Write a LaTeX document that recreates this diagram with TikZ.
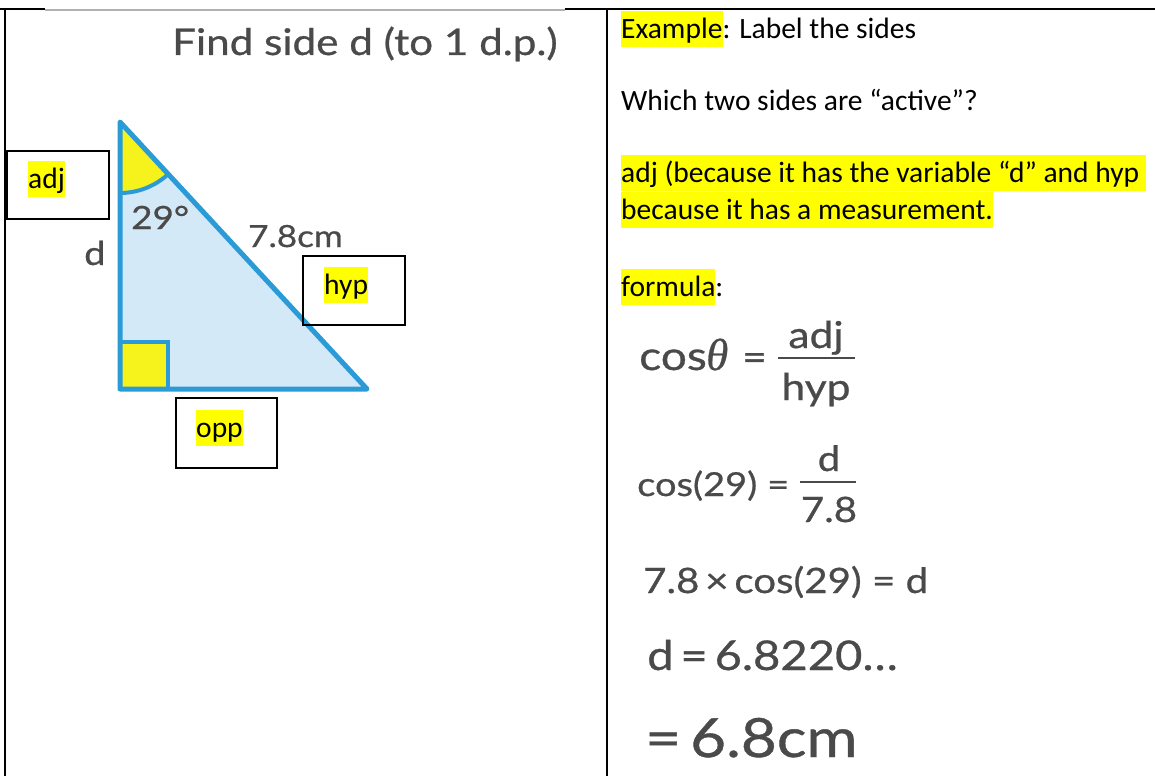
\documentclass[tikz,border=0pt]{standalone}
\usepackage{fontspec}
\usepackage{graphicx}
\setmainfont{Carlito}
\newfontfamily\figfont[FakeStretch=1.15,FakeBold=0.7]{Lato}
\newfontfamily\thetafont[FakeBold=0.5]{Liberation Serif}
\usetikzlibrary{calc}
\definecolor{triblue}{HTML}{2B9BD7}
\definecolor{trifill}{HTML}{D4E9F7}
\definecolor{figyellow}{HTML}{F6F21C}
\definecolor{hlyellow}{HTML}{FFFF00}
\definecolor{figgray}{HTML}{4A4A4A}
\newcommand\hlbox[1]{{\setlength{\fboxsep}{0pt}\colorbox{hlyellow}{\rule[-9pt]{0pt}{36pt}#1}}}
\begin{document}
\begin{tikzpicture}[x=1pt,y=-1pt,
  doc/.style={anchor=base west, inner sep=0pt, font=\fontsize{29.5}{36}\selectfont},
  fig/.style={anchor=base west, inner sep=0pt, text=figgray},
  lbox/.style={draw=black, line width=1.6pt},
  rule/.style={draw=black, line width=2pt}]
\useasboundingbox (0,0) rectangle (1155,776);
\fill[white] (0,0) rectangle (1155,776);
% table rules
\coordinate (tl) at (0,9);
\coordinate (tm) at (45,9);
\coordinate (tn) at (565,9);
\coordinate (tr) at (1155,9);
\draw[rule] (tl) -- (tm);
\draw[rule] (tn) -- (tr);
\draw[draw=gray!60, line width=1.2pt] (45,10) -- (565,10);
\draw[rule, line width=2.5pt] (5,9) -- (5,776);
\draw[rule] (606.5,9) -- (606.5,776);

% ---------- left figure ----------
\node[fig, font=\figfont\fontsize{36.7}{40}\selectfont] (title) at (172,55) {Find side d (to 1 d.p.)};
\coordinate (A) at (120,122);
\coordinate (B) at (120,389);
\coordinate (C) at (367,389);
\fill[trifill] (A) -- (B) -- (C) -- cycle;
\fill[figyellow] (A) -- ++(0,71) arc[start angle=90, end angle=47.2, radius=71] -- cycle;
\fill[figyellow] (120,342) rectangle (168,389);
\draw[triblue, line width=4pt] (120,342) -- (168,342) -- (168,389);
\draw[triblue, line width=4pt] ($(A)+(0,71)$) arc[start angle=90, end angle=47.2, radius=71];
\draw[triblue, line width=5pt, line join=round] (A) -- (B) -- (C) -- cycle;
\node[fig, font=\figfont\fontsize{32}{36}\selectfont] (ang) at (131,229) {29°};
\node[fig, font=\figfont\fontsize{30.5}{36}\selectfont] (hyplen) at (248,247) {7.8cm};
\node[fig, font=\figfont\fontsize{33}{36}\selectfont] (dlab) at (84,265) {d};

% label boxes
\draw[lbox] (7,151) rectangle (109,219);
\draw[lbox] (303,256) rectangle (405,325);
\draw[lbox] (176,398) rectangle (277,468);
\node[doc] (adjt) at (28,188) {\hlbox{adj}};
\node[doc] (hypt) at (324,294) {\hlbox{hyp}};
\node[doc] (oppt) at (196,437) {\hlbox{opp}};

% ---------- right column ----------
\node[doc] (l1) at (621,38) {\hlbox{Example}: Label the sides};
\node[doc] (l2) at (621,110) {Which two sides are “active”?};
\node[doc] (l3) at (621,182) {\hlbox{adj (because it has the variable “d” and hyp }};
\node[doc] (l4) at (621,219) {\hlbox{because it has a measurement.}};
\node[doc] (l5) at (621,296) {\hlbox{formula}:};

% formula 1
\node[fig, font=\figfont\fontsize{40}{40}\selectfont] (cos1) at (639,370) {cos};
\node[fig, font=\thetafont\itshape\fontsize{45}{40}\selectfont] (th) at (706,370) {θ};
\node[fig, font=\figfont\fontsize{37}{40}\selectfont] (eq1) at (742,370) {=};
\draw[figgray, line width=2pt] (778,358) -- (855,358);
\node[fig, anchor=base, font=\figfont\fontsize{37}{40}\selectfont] (adjf) at (816,348) {adj};
\node[fig, anchor=base, font=\figfont\fontsize{37}{40}\selectfont] (hypf) at (816,400) {hyp};
% formula 2
\node[fig, font=\figfont\fontsize{33}{40}\selectfont] (cos2) at (637,496) {cos(29)};
\node[fig, font=\figfont\fontsize{33}{40}\selectfont] (eq2) at (767,496) {=};
\draw[figgray, line width=2pt] (800,482) -- (856,482);
\node[fig, anchor=base, font=\figfont\fontsize{35}{40}\selectfont] (df) at (829,471) {d};
\node[fig, anchor=base, font=\figfont\fontsize{35}{40}\selectfont] (sevf) at (829,522) {7.8};
% formula 3-5
\node[fig, font=\figfont\fontsize{35}{40}\selectfont] (f3) at (643,593) {7.8\,×\,cos(29) = d};
\node[fig, font=\figfont\fontsize{41}{50}\selectfont] (f4) at (647,670) {d\,=\,6.8220…};
\node[fig, font=\figfont\fontsize{54}{60}\selectfont] (f5) at (645,757) {=\,6.8cm};
\end{tikzpicture}
\end{document}
